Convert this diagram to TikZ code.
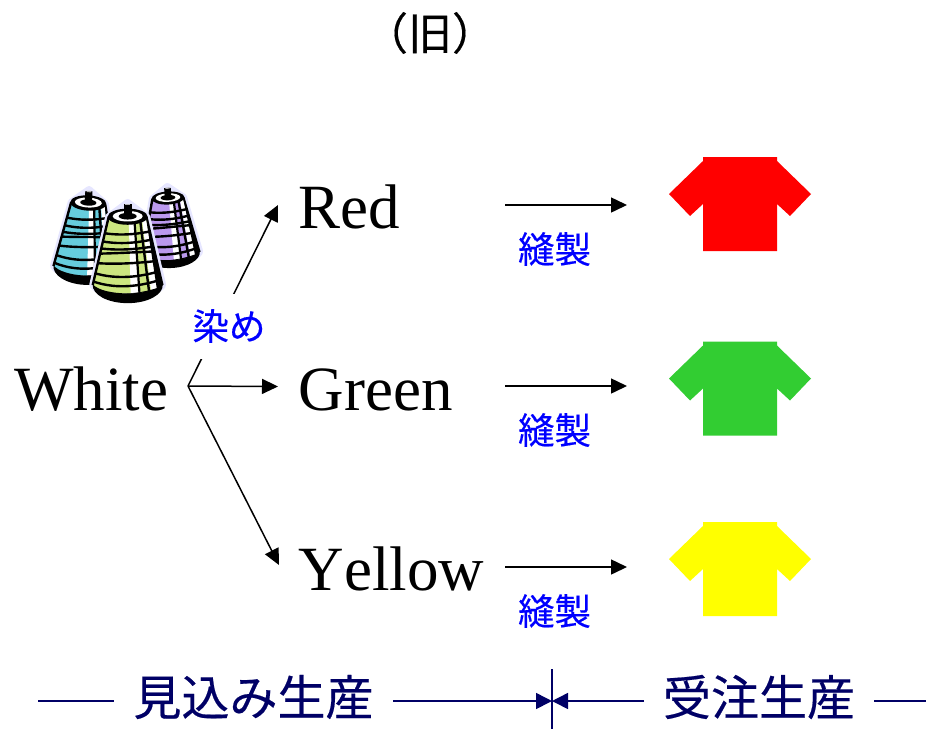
\documentclass[tikz,border=0pt]{standalone}
\usepackage{fontspec}
\setmainfont[Kerning=Off]{Liberation Serif}
\newfontfamily\cjk[FakeBold=0.35]{Noto Sans CJK JP}
\usetikzlibrary{arrows.meta}
\definecolor{navyline}{HTML}{000066}
\definecolor{halo}{HTML}{E6E6FF}
\definecolor{shirtred}{HTML}{FF0000}
\definecolor{shirtgreen}{HTML}{32CD32}
\definecolor{shirtyellow}{HTML}{FFFF00}
\definecolor{labelblue}{HTML}{0000FF}
\definecolor{threadcyan}{HTML}{66CCDD}
\definecolor{threadlime}{HTML}{CCE680}
\definecolor{threadpurple}{HTML}{BB99EE}
\tikzset{
  latin/.style={font=\fontsize{63}{63}\selectfont,anchor=base west,inner sep=0pt},
  sewlabel/.style={font=\cjk\fontsize{36.5}{36.5}\selectfont,text=labelblue,inner sep=0pt},
  modelabel/.style={font=\cjk\fontsize{48}{48}\selectfont,text=navyline,inner sep=0pt},
  flow/.style={line width=1.5pt,-{Triangle[length=16pt,width=15pt]}},
  modeline/.style={line width=1.6pt,navyline},
  modearrow/.style={modeline,-{Triangle[length=16pt,width=16pt]}},
  pics/shirt/.style={code={
    \fill[#1] (0,0) -- (74,0) -- (74,4) -- (108,37) -- (87,59) -- (74,47) -- (74,94)
      -- (0,94) -- (0,47) -- (-13,59) -- (-34,37) -- (0,4) -- cycle;
  }},
  pics/spool/.style={code={
    \draw[halo,line width=7pt,line join=round,fill=halo]
      (0,-15) -- (-19,0) -- (-35,72) .. controls (-25,86) and (25,86) .. (35,72) -- (19,0) -- cycle;
    \fill[#1] (-19,0) -- (-35,72) .. controls (-25,84) and (25,84) .. (35,72) -- (19,0) .. controls (10,6) and (-10,6) .. cycle;
    \begin{scope}
      \clip (-19,0) -- (-35,72) .. controls (-25,84) and (25,84) .. (35,72) -- (19,0) -- cycle;
      \fill[white] (1,0) -- (6,0) -- (13,84) -- (3,84) -- cycle;
      \fill[white] (14,0) -- (18,0) -- (32,84) -- (24,84) -- cycle;
      \foreach \yy/\bb in {13/3,22/3,31/0,39/-6,48/-3,57/4,66/5,75/5}
        \draw[black,line width=2.4pt] (-40,\yy) .. controls (-15,\yy+\bb+6) and (12,\yy+\bb+4) .. (42,\yy-3);
      \draw[black,line width=2.2pt] (6.5,0) -- (12,84);
      \draw[black,line width=2.4pt] (12,0) -- (22,84);
      \fill[black] (18,-1) -- (21,-1) -- (38,74) -- (30,82) -- cycle;
    \end{scope}
    \draw[black,line width=2.4pt] (-19,0) -- (-35,72);
    \draw[black,line width=1.8pt] (19,0) -- (35,72);
    \fill[black] (-35,71) .. controls (-25,84) and (25,84) .. (35,71)
      .. controls (36,82) and (20,91) .. (0,91) .. controls (-20,91) and (-36,82) .. (-35,71) -- cycle;
    \fill[black] (0,0) ellipse [x radius=20,y radius=8.5];
    \fill[white] (0,-0.5) ellipse [x radius=15,y radius=5.5];
    \fill[black] (0,-0.5) ellipse [x radius=9,y radius=3.5];
    \fill[black] (-4,-13) rectangle (4,-1);
    \fill[gray!60] (-2.5,-13.5) rectangle (2.5,-12);
  }}
}
\begin{document}
\begin{tikzpicture}[x=1pt,y=-1pt]
\useasboundingbox (0,0) rectangle (926,729);
% title
\node[font=\cjk\fontsize{44}{44}\selectfont,inner sep=0pt] (title) at (430,33) {（旧）};
% spools
\pic[shift={(168,198)},xscale=.82,yscale=.77,rotate=3] {spool=threadpurple};
\pic[shift={(88.3,203)},xscale=.9,yscale=.9,rotate=-3] {spool=threadcyan};
\pic[shift={(127.7,216.7)},yscale=.95] {spool=threadlime};
% process labels
\node[latin] (white) at (14,410) {White};
\node[latin] (red) at (298.5,228) {Red};
\node[latin] (green) at (298.5,410) {Green};
\node[latin] (yellow) at (298.5,590) {Yellow};
\coordinate (hub) at (188,386);
\coordinate (redin) at (278,205);
\coordinate (greenin) at (278,386.5);
\coordinate (yellowin) at (279,565);
\draw[flow] (hub) -- (redin);
\draw[flow] (hub) -- (greenin);
\draw[flow] (hub) -- (yellowin);
\node[sewlabel,fill=white,minimum width=74pt,minimum height=65pt] (dye) at (229,326) {染め};
% sewing arrows
\coordinate (redout) at (505,205);
\coordinate (redshirt) at (627,205);
\coordinate (greenout) at (505,386);
\coordinate (greenshirt) at (627,386);
\coordinate (yellowout) at (505,567);
\coordinate (yellowshirt) at (627,567);
\draw[flow] (redout) -- (redshirt);
\draw[flow] (greenout) -- (greenshirt);
\draw[flow] (yellowout) -- (yellowshirt);
\node[sewlabel] (sewred) at (554.5,249) {縫製};
\node[sewlabel] (sewgreen) at (554.5,430) {縫製};
\node[sewlabel] (sewyellow) at (554.5,611) {縫製};
% shirts
\pic at (703,157) {shirt=shirtred};
\pic at (703,341.5) {shirt=shirtgreen};
\pic at (703,522) {shirt=shirtyellow};
% bottom band
\node[modelabel] (stock) at (253.5,697) {見込み生産};
\node[modelabel] (order) at (759,697) {受注生産};
\coordinate (divtop) at (552,669);
\coordinate (divbottom) at (552,729);
\coordinate (divmid) at (552,701);
\coordinate (leftend) at (38,701);
\coordinate (rightend) at (926,701);
\draw[line width=1.2pt,navyline] (divtop) -- (divbottom);
\draw[modeline] (leftend) -- (114,701);
\draw[modeline] (874,701) -- (rightend);
\draw[modearrow] (393,701) -- (divmid);
\draw[modearrow] (644,701) -- (divmid);
\end{tikzpicture}
\end{document}
